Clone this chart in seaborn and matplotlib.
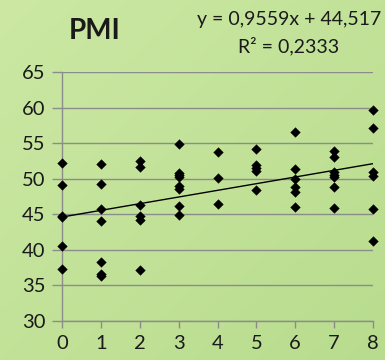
import numpy as np
import pandas as pd
import matplotlib
matplotlib.use("Agg")
import matplotlib.pyplot as plt
import seaborn as sns
from matplotlib.colors import LinearSegmentedColormap

# Data
x_0 = [52.2, 49.1, 44.8, 44.6, 40.5, 37.3]
x_1 = [52.0, 49.2, 45.8, 44.0, 38.3, 36.6, 36.3]
x_2 = [52.5, 51.6, 46.3, 44.8, 44.2, 37.1]
x_3 = [54.9, 50.8, 50.5, 50.3, 49.0, 48.5, 46.2, 44.9]
x_4 = [53.8, 50.1, 46.4]
x_5 = [54.2, 51.9, 51.5, 51.1, 48.4]
x_6 = [56.5, 51.3, 49.9, 48.9, 48.2, 46.0]
x_7 = [53.9, 53.0, 51.0, 50.5, 50.2, 48.9, 45.9]
x_8 = [59.6, 57.1, 51.0, 50.4, 45.7, 41.2]
groups = [x_0, x_1, x_2, x_3, x_4, x_5, x_6, x_7, x_8]
x_ticks = [0, 1, 2, 3, 4, 5, 6, 7, 8]
y_ticks = [30, 35, 40, 45, 50, 55, 60, 65]
title = "PMI"
eq_line1 = "y = 0,9559x + 44,517"
eq_line2 = "R² = 0,2333"

xs, ys = [], []
for xv, vals in zip(x_ticks, groups):
    xs += [xv] * len(vals)
    ys += vals
df = pd.DataFrame({"x": xs, "y": ys})

sns.set_theme(style="white")
plt.rcParams["font.family"] = ["Lato", "DejaVu Sans"]

fig = plt.figure(figsize=(3.85, 3.6), dpi=100)

# background gradient
bg = fig.add_axes([0, 0, 1, 1], zorder=-10)
cmap = LinearSegmentedColormap.from_list("g", ["#cce8a3", "#b8dc8e"])
gx, gy = np.meshgrid(np.linspace(0, 1, 200), np.linspace(0, 1, 200))
bg.imshow((gx + gy) / 2, cmap=cmap, aspect="auto", extent=[0, 1, 0, 1])
bg.axis("off")

ax = fig.add_axes([62 / 385, 1 - 321 / 360, (373 - 62) / 385, (321 - 72) / 360])
ax.patch.set_alpha(0)

sns.regplot(data=df, x="x", y="y", ax=ax, scatter=False, ci=None, truncate=True,
            line_kws=dict(color="black", lw=1.0))
sns.scatterplot(data=df, x="x", y="y", ax=ax, marker="D", color="black",
                s=24, edgecolor="black", linewidth=0.3, zorder=5, clip_on=False)

ax.set_xlim(0, 8)
ax.set_ylim(30, 65)
ax.set_xticks(x_ticks)
ax.set_yticks(y_ticks)
ax.set_xlabel("")
ax.set_ylabel("")
ax.grid(axis="y", color="#8c8c8c", lw=1.0)
ax.set_axisbelow(True)
for s in ["top", "right"]:
    ax.spines[s].set_visible(False)
ax.spines["left"].set_color("#8c8c8c")
ax.spines["bottom"].set_color("#8c8c8c")
ax.spines["left"].set_linewidth(1.0)
ax.spines["bottom"].set_linewidth(1.0)
ax.tick_params(axis="x", direction="out", length=5, width=1, color="#8c8c8c",
               labelsize=14.5, pad=5, bottom=True)
ax.tick_params(axis="y", direction="out", length=7, width=1, color="#8c8c8c",
               labelsize=14.5, pad=5, left=True)
for lab in ax.get_xticklabels() + ax.get_yticklabels():
    lab.set_color("#1a1a1a")

fig.text(95 / 385, 1 - 31 / 360, title, ha="center", va="center",
         fontsize=20, fontweight="bold", color="#1a1a1a")
fig.text(289 / 385, 1 - 19 / 360, eq_line1, ha="center", va="center",
         fontsize=14, color="#1a1a1a")
fig.text(289 / 385, 1 - 46 / 360, eq_line2, ha="center", va="center",
         fontsize=14, color="#1a1a1a")

fig.savefig("out.png", dpi=100)
